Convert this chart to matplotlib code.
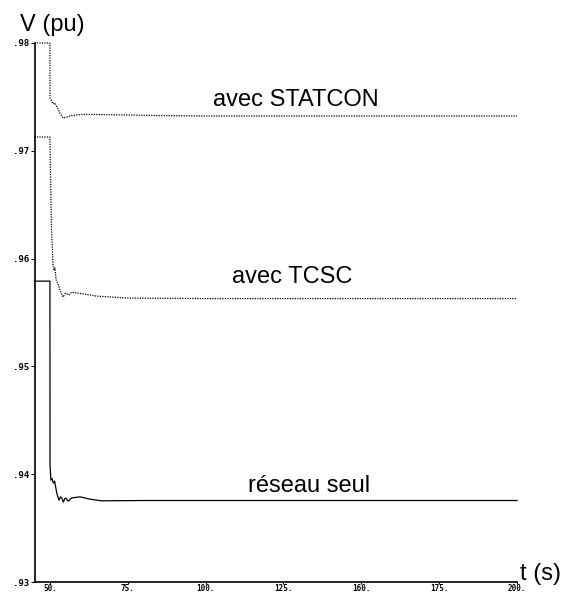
import matplotlib
matplotlib.use("Agg")
import matplotlib.pyplot as plt

# time (s) and voltage (pu)
t_statcon = [45, 50, 50.02, 50.4, 51, 51.6, 52.3, 53.2, 54.2, 55.3, 57, 60, 65, 75, 85, 100, 200]
v_statcon = [0.9800, 0.9800, 0.97490, 0.97471, 0.97434, 0.97443, 0.97406, 0.97350, 0.97304,
             0.97313, 0.97327, 0.97337, 0.97337, 0.97332, 0.97327, 0.97323, 0.97323]

t_tcsc = [45, 50, 50.05, 50.5, 51, 51.3, 51.6, 52.0, 52.6, 53.2, 54.2, 55.0, 56, 57, 59, 61, 65, 75, 100, 200]
v_tcsc = [0.97128, 0.97128, 0.97007, 0.96265, 0.95940, 0.95893, 0.95912, 0.95801, 0.95764, 0.95708,
          0.95643, 0.95680, 0.95662, 0.95689, 0.95680, 0.95671, 0.95652, 0.95634, 0.95629, 0.95629]

t_reseau = [45, 50, 50.01, 50.3, 50.7, 51.1, 51.5, 52.2, 52.9, 53.4, 53.8, 54.3, 54.8, 55.2, 55.8,
            57, 59.7, 62.9, 66.7, 80, 200]
v_reseau = [0.95791, 0.95791, 0.94102, 0.93945, 0.93960, 0.93917, 0.93935, 0.93824, 0.93759, 0.93790,
            0.93778, 0.93741, 0.93775, 0.93778, 0.93750, 0.93780, 0.93790, 0.93768, 0.93753, 0.93756, 0.93756]

x_ticks = [50, 75, 100, 125, 150, 175, 200]
x_labels = ['50.', '75.', '100.', '125.', '160.', '175.', '200.']
y_ticks = [0.93, 0.94, 0.95, 0.96, 0.97, 0.98]
y_labels = ['.93', '.94', '.95', '.96', '.97', '.98']

W, H = 568, 592
fig = plt.figure(figsize=(W / 100, H / 100), dpi=100)
ax = fig.add_axes([35 / W, 10 / H, (517 - 35) / W, (582 - 43) / H])

ax.plot(t_statcon, v_statcon, color='black', lw=0.9, ls=(0, (1, 1)), clip_on=False)
ax.plot(t_tcsc, v_tcsc, color='black', lw=0.9, ls=(0, (1, 1)), clip_on=False)
ax.plot(t_reseau, v_reseau, color='black', lw=0.9, clip_on=False)

ax.set_xlim(45.2, 200)
ax.set_ylim(0.93, 0.98)
ax.spines['top'].set_visible(False)
ax.spines['right'].set_visible(False)
ax.spines['left'].set_linewidth(1.2)
ax.spines['bottom'].set_linewidth(1.2)

ax.set_xticks(x_ticks)
ax.set_xticklabels(x_labels, family='DejaVu Sans Mono', size=5.5, weight='bold')
ax.set_yticks(y_ticks)
ax.set_yticklabels(y_labels, family='DejaVu Sans Mono', size=6.5, weight='bold')
ax.tick_params(axis='y', direction='out', length=3, width=0.8, pad=1)
ax.tick_params(axis='x', direction='out', length=1.5, width=0.8, pad=0)

big = dict(family='Liberation Sans', size=17, va='baseline', ha='left')
fig.text(20 / W, 1 - 31 / H, 'V (pu)', **big)
fig.text(520 / W, 1 - 580 / H, 't (s)', **big)
fig.text(213 / W, 1 - 106 / H, 'avec STATCON', **big)
fig.text(232 / W, 1 - 283 / H, 'avec TCSC', **big)
fig.text(248 / W, 1 - 492 / H, 'réseau seul', **big)

fig.savefig('out.png', dpi=100)
